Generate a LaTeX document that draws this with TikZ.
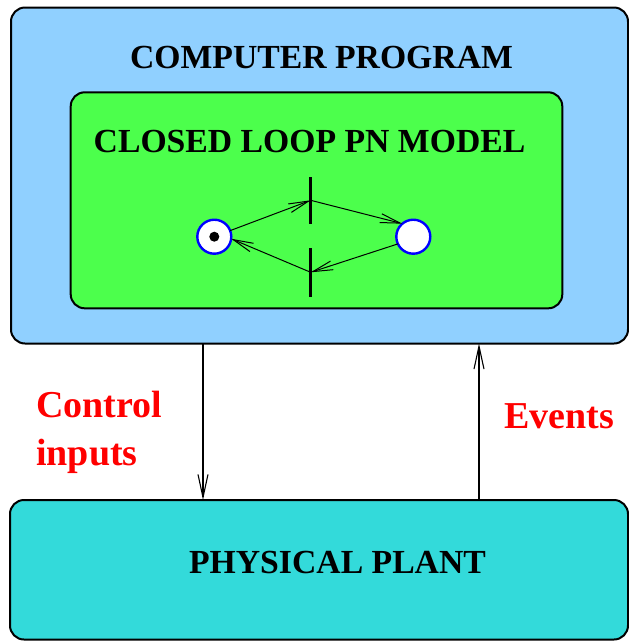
\documentclass[tikz,border=0pt]{standalone}
\usepackage{fontspec}
\setmainfont{Liberation Serif}
\usetikzlibrary{arrows.meta}
\definecolor{progblue}{RGB}{144,208,255}
\definecolor{pngreen}{RGB}{76,255,76}
\definecolor{plantcyan}{RGB}{51,218,218}
\begin{document}
\begin{tikzpicture}[x=1pt,y=-1pt,
  box/.style={draw=black,line width=2pt,rounded corners=14pt,inner sep=0pt,outer sep=0pt},
  title/.style={font=\bfseries\fontsize{33.7}{40}\selectfont,anchor=base,inner sep=0pt},
  redlab/.style={font=\bfseries\fontsize{38}{48}\selectfont,text=red,anchor=base west,inner sep=0pt},
  place/.style={circle,draw=blue,line width=2.4pt,fill=white,minimum size=34pt,inner sep=0pt,outer sep=0pt},
  trans/.style={rectangle,fill=black,minimum width=2.6pt,inner sep=0pt,outer sep=0pt},
  arc/.style={line width=1pt,-{Straight Barb[length=20pt,width=9pt,line width=1pt]}},
  link/.style={line width=1.3pt,-{Straight Barb[length=23pt,width=10pt,line width=1.1pt]}}]
\useasboundingbox (0,0) rectangle (629,641);
% boxes
\node[box,fill=progblue,minimum width=617pt,minimum height=336pt] (prog) at (319.5,175.5) {};
\node[box,fill=pngreen,minimum width=491.6pt,minimum height=216pt] (model) at (316.5,200.3) {};
\node[box,fill=plantcyan,minimum width=618pt,minimum height=139.5pt] (plant) at (319,569.75) {};
% titles
\node[title] (progtxt) at (321.5,68.3) {COMPUTER PROGRAM};
\node[title] (modeltxt) at (309.5,152.7) {CLOSED LOOP PN MODEL};
\node[title] (planttxt) at (337.5,573) {PHYSICAL PLANT};
% petri net
\node[place] (p1) at (214.3,236.7) {};
\node[place] (p2) at (413.3,236.7) {};
\fill[black] (p1.center) circle (5pt);
\node[trans,minimum height=47.3pt] (t1) at (310.7,200.3) {};
\node[trans,minimum height=48.7pt] (t2) at (310.7,272.3) {};
\draw[arc] (p1.21) -- (t1.center);
\draw[arc] (t1.center) -- (p2.130);
\draw[arc] (p2.205) -- (t2.center);
\draw[arc] (t2.center) -- (p1.-7);
% links
\coordinate (xl) at (203,0);
\coordinate (xr) at (479,0);
\draw[link] (xl |- prog.south) -- (xl |- plant.north);
\draw[link] (xr |- plant.north) -- (xr |- prog.south);
% labels
\node[redlab] (ctrl) at (36,417.3) {Control};
\node[redlab] (inp) at (36,465) {inputs};
\node[redlab] (ev) at (504,428.3) {Events};
\end{tikzpicture}
\end{document}
